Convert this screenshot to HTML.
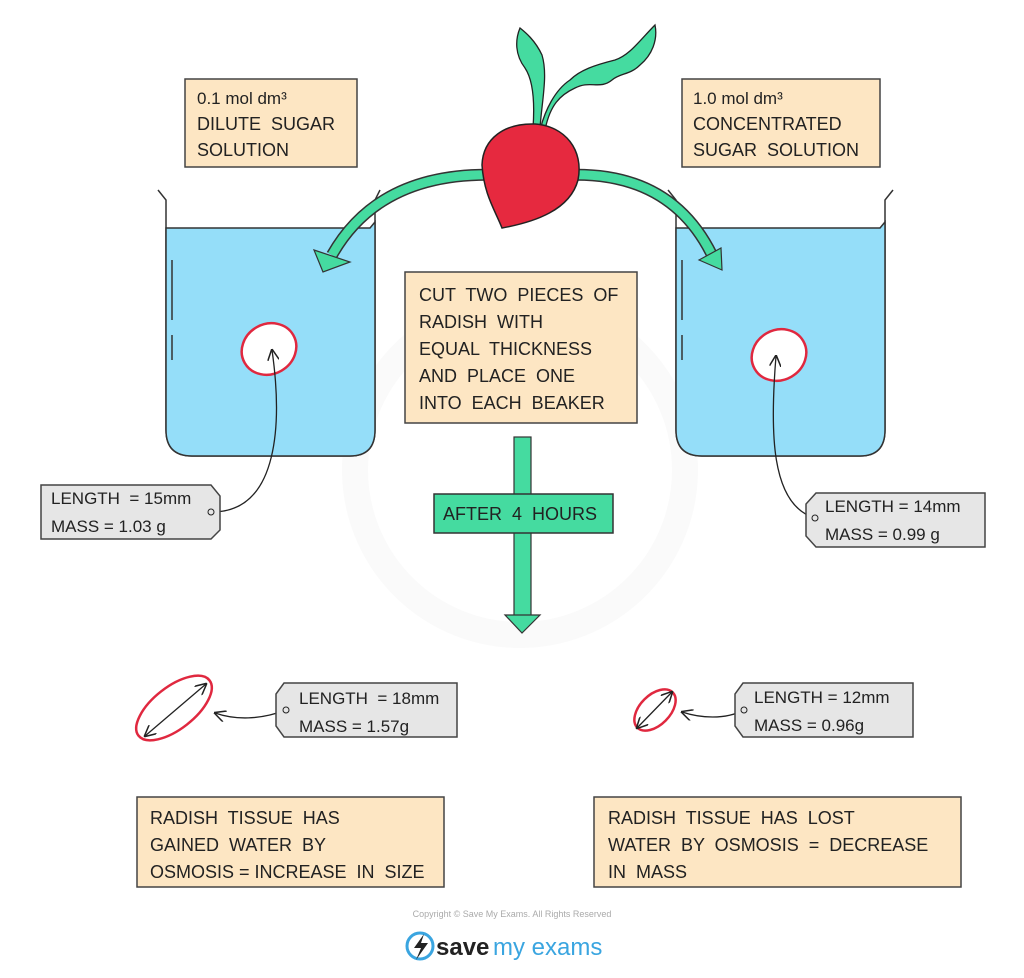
<!DOCTYPE html>
<html><head><meta charset="utf-8"><style>
html,body{margin:0;padding:0;background:#fff;}
svg{display:block;}
text{font-family:"Liberation Sans",sans-serif;fill:#222;white-space:pre;}
</style></head><body>
<svg width="1024" height="978" viewBox="0 0 1024 978" xmlns="http://www.w3.org/2000/svg" xml:space="preserve">
<defs>
<marker id="ah" viewBox="0 0 10 10" refX="9" refY="5" markerWidth="9" markerHeight="9" orient="auto-start-reverse"><path d="M0,0 L10,5 L0,10" fill="none" stroke="#222" stroke-width="1.3"/></marker>
</defs>
<circle cx="520" cy="470" r="165" fill="none" stroke="#fafafa" stroke-width="26"/>

<rect x="185" y="79" width="172" height="88" fill="#fde6c3" stroke="#444" stroke-width="1.5"/>
<text x="197" y="104" font-size="17">0.1 mol dm³</text>
<text x="197" y="130" font-size="18">DILUTE  SUGAR</text>
<text x="197" y="156" font-size="18">SOLUTION</text>
<rect x="682" y="79" width="198" height="88" fill="#fde6c3" stroke="#444" stroke-width="1.5"/>
<text x="693" y="104" font-size="17">1.0 mol dm³</text>
<text x="693" y="130" font-size="18">CONCENTRATED</text>
<text x="693" y="156" font-size="18">SUGAR  SOLUTION</text>

<path d="M158,190 L166,200 L166,430 Q166,456 192,456 L350,456 Q375,456 375,430 L375,200 L380,190" fill="none" stroke="#333" stroke-width="1.5"/>
<path d="M166,228 L370,228 L375,222 L375,430 Q375,456 350,456 L192,456 Q166,456 166,430 Z" fill="#95def9" stroke="#333" stroke-width="1.5"/>
<line x1="172" y1="260" x2="172" y2="320" stroke="#333" stroke-width="1.5"/>
<line x1="172" y1="335" x2="172" y2="360" stroke="#333" stroke-width="1.5"/>
<ellipse cx="269" cy="349" rx="28" ry="25" transform="rotate(-30 269 349)" fill="#fff" stroke="#e0283f" stroke-width="2.5"/>
<path d="M212,512 C280,512 282,420 272,350" fill="none" stroke="#222" stroke-width="1.3" marker-end="url(#ah)"/>
<path d="M41,485 L211,485 L220,496 L220,530 L211,539 L41,539 Z" fill="#e6e6e6" stroke="#444" stroke-width="1.5"/>
<circle cx="211" cy="512" r="3" fill="none" stroke="#222"/>
<text x="51" y="504" font-size="17">LENGTH  = 15mm</text>
<text x="51" y="532" font-size="17">MASS = 1.03 g</text>

<path d="M668,190 L676,200 L676,430 Q676,456 702,456 L860,456 Q885,456 885,430 L885,200 L893,190" fill="none" stroke="#333" stroke-width="1.5"/>
<path d="M676,228 L880,228 L885,222 L885,430 Q885,456 860,456 L702,456 Q676,456 676,430 Z" fill="#95def9" stroke="#333" stroke-width="1.5"/>
<line x1="682" y1="260" x2="682" y2="320" stroke="#333" stroke-width="1.5"/>
<line x1="682" y1="335" x2="682" y2="360" stroke="#333" stroke-width="1.5"/>
<ellipse cx="779" cy="355" rx="28" ry="25" transform="rotate(-30 779 355)" fill="#fff" stroke="#e0283f" stroke-width="2.5"/>
<path d="M815,518 C770,505 770,430 776,356" fill="none" stroke="#222" stroke-width="1.3" marker-end="url(#ah)"/>
<path d="M816,493 L985,493 L985,547 L816,547 L806,536 L806,504 Z" fill="#e6e6e6" stroke="#444" stroke-width="1.5"/>
<circle cx="815" cy="518" r="3" fill="none" stroke="#222"/>
<text x="825" y="512" font-size="17">LENGTH = 14mm</text>
<text x="825" y="540" font-size="17">MASS = 0.99 g</text>

<path d="M500,175 Q380,170 332,255" fill="none" stroke="#333" stroke-width="12"/>
<path d="M500,175 Q380,170 332,255" fill="none" stroke="#45dba0" stroke-width="9"/>
<polygon points="314,250 350,262 323,272" fill="#45dba0" stroke="#333" stroke-width="1.2"/>
<path d="M565,175 Q670,170 712,255" fill="none" stroke="#333" stroke-width="12"/>
<path d="M565,175 Q670,170 712,255" fill="none" stroke="#45dba0" stroke-width="9"/>
<polygon points="699,260 721,248 722,270" fill="#45dba0" stroke="#333" stroke-width="1.2"/>

<path d="M540,128 C542,100 548,75 542,55 C535,40 525,32 520,28 C515,40 515,55 525,68 C533,80 535,100 533,128 Z" fill="#45dba0" stroke="#222" stroke-width="1.3"/>
<path d="M545,130 C550,105 560,95 575,88 C590,80 600,90 612,80 C620,73 630,75 640,65 C652,55 658,40 655,25 C640,40 630,55 615,60 C595,65 580,70 570,80 C555,90 545,110 540,130 Z" fill="#45dba0" stroke="#222" stroke-width="1.3"/>
<path d="M502,228 C495,210 484,195 482,165 C483,138 505,123 535,124 C565,126 584,150 578,180 C570,210 535,222 502,228 Z" fill="#e6293f" stroke="#222" stroke-width="1.5"/>

<rect x="405" y="272" width="232" height="151" fill="#fde6c3" stroke="#444" stroke-width="1.5"/>
<text font-size="18"><tspan x="419" y="301">CUT  TWO  PIECES  OF</tspan><tspan x="419" y="328">RADISH  WITH</tspan><tspan x="419" y="355">EQUAL  THICKNESS</tspan><tspan x="419" y="382">AND  PLACE  ONE</tspan><tspan x="419" y="409">INTO  EACH  BEAKER</tspan></text>

<rect x="514" y="437" width="17" height="58" fill="#45dba0" stroke="#333" stroke-width="1.2"/>
<rect x="514" y="532" width="17" height="85" fill="#45dba0" stroke="#333" stroke-width="1.2"/>
<polygon points="505,615 540,615 522,633" fill="#45dba0" stroke="#333" stroke-width="1.2"/>
<rect x="434" y="494" width="179" height="39" fill="#45dba0" stroke="#333" stroke-width="1.5"/>
<text x="443" y="520" font-size="18">AFTER  4  HOURS</text>

<ellipse cx="174" cy="708" rx="45" ry="21" transform="rotate(-38 174 708)" fill="#fff" stroke="#e0283f" stroke-width="2.5"/>
<line x1="145" y1="736" x2="206" y2="684" stroke="#222" stroke-width="1.3" marker-start="url(#ah)" marker-end="url(#ah)"/>
<path d="M286,710 C260,720 235,720 215,713" fill="none" stroke="#222" stroke-width="1.3" marker-end="url(#ah)"/>
<path d="M284,683 L457,683 L457,737 L284,737 L276,726 L276,694 Z" fill="#e6e6e6" stroke="#444" stroke-width="1.5"/>
<circle cx="286" cy="710" r="3" fill="none" stroke="#222"/>
<text x="299" y="704" font-size="17">LENGTH  = 18mm</text>
<text x="299" y="732" font-size="17">MASS = 1.57g</text>

<ellipse cx="655" cy="710" rx="25" ry="15" transform="rotate(-45 655 710)" fill="#fff" stroke="#e0283f" stroke-width="2.5"/>
<line x1="637" y1="728" x2="672" y2="692" stroke="#222" stroke-width="1.3" marker-start="url(#ah)" marker-end="url(#ah)"/>
<path d="M744,710 C725,720 700,718 682,712" fill="none" stroke="#222" stroke-width="1.3" marker-end="url(#ah)"/>
<path d="M743,683 L913,683 L913,737 L743,737 L735,726 L735,694 Z" fill="#e6e6e6" stroke="#444" stroke-width="1.5"/>
<circle cx="744" cy="710" r="3" fill="none" stroke="#222"/>
<text x="754" y="703" font-size="17">LENGTH = 12mm</text>
<text x="754" y="731" font-size="17">MASS = 0.96g</text>

<rect x="137" y="797" width="307" height="90" fill="#fde6c3" stroke="#444" stroke-width="1.5"/>
<text font-size="18"><tspan x="150" y="824">RADISH  TISSUE  HAS</tspan><tspan x="150" y="851">GAINED  WATER  BY</tspan><tspan x="150" y="878">OSMOSIS = INCREASE  IN  SIZE</tspan></text>
<rect x="594" y="797" width="367" height="90" fill="#fde6c3" stroke="#444" stroke-width="1.5"/>
<text font-size="18"><tspan x="608" y="824">RADISH  TISSUE  HAS  LOST</tspan><tspan x="608" y="851">WATER  BY  OSMOSIS  =  DECREASE</tspan><tspan x="608" y="878">IN  MASS</tspan></text>

<text x="512" y="917" font-size="9" text-anchor="middle" style="fill:#aaa">Copyright © Save My Exams. All Rights Reserved</text>
<circle cx="420" cy="946" r="13" fill="none" stroke="#3aa5e0" stroke-width="3"/>
<path d="M424,934 L414,948 L421,948 L416,960 L428,943 L421,943 Z" fill="#222"/>
<text x="436" y="955" font-size="24" font-weight="bold" style="fill:#222">save</text>
<text x="493" y="955" font-size="24" style="fill:#3aa5e0">my exams</text>
</svg>
</body></html>
